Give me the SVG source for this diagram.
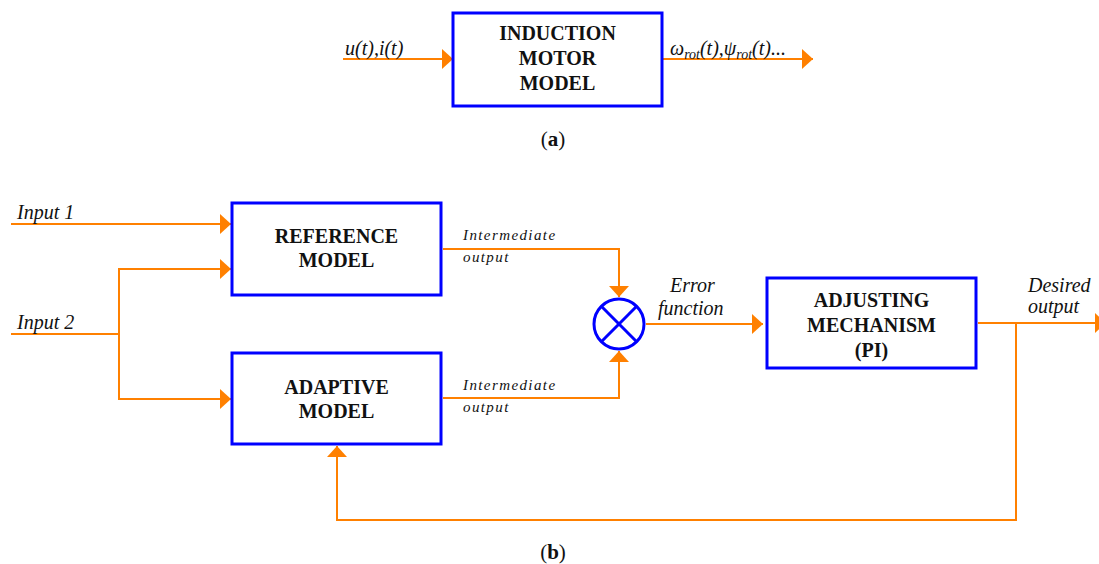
<svg xmlns="http://www.w3.org/2000/svg" width="1099" height="564" viewBox="0 0 1099 564">
<defs>
<style>
text{font-family:"Liberation Serif","Times New Roman","DejaVu Serif",serif;fill:#111}
.box{fill:#fff;stroke:#0000ff;stroke-width:3}
.ln{fill:none;stroke:#ff8000;stroke-width:2}
.bt{font-weight:bold;font-size:20px;text-anchor:middle}
.it{font-style:italic;font-size:20px}
.sm{font-style:italic;font-size:15px;letter-spacing:1.4px}
.cap{font-size:21px;text-anchor:middle}
</style>
<marker id="ah" markerUnits="userSpaceOnUse" markerWidth="12" markerHeight="20" refX="11" refY="10" orient="auto" viewBox="0 0 12 20">
<path d="M0,0 L11,10 L0,20 z" fill="#ff8000"/>
</marker>
</defs>

<g id="connectors">
<line class="ln" x1="343" y1="59" x2="453" y2="59" marker-end="url(#ah)"/>
<line class="ln" x1="662" y1="59" x2="813" y2="59" marker-end="url(#ah)"/>
<line class="ln" x1="11" y1="224" x2="231" y2="224" marker-end="url(#ah)"/>
<polyline class="ln" points="11,334 119,334"/>
<polyline class="ln" points="119,334 119,269 231,269" marker-end="url(#ah)"/>
<polyline class="ln" points="119,334 119,399 231,399" marker-end="url(#ah)"/>
<polyline class="ln" points="443,249 619,249 619,297" marker-end="url(#ah)"/>
<polyline class="ln" points="443,398 619,398 619,351" marker-end="url(#ah)"/>
<line class="ln" x1="646" y1="324" x2="763" y2="324" marker-end="url(#ah)"/>
<line class="ln" x1="978" y1="323" x2="1106" y2="323" marker-end="url(#ah)"/>
<polyline class="ln" points="1016,323 1016,520 337,520 337,446" marker-end="url(#ah)"/>
</g>

<g id="motor">
<rect class="box" x="453" y="13" width="209" height="93"/>
<text class="bt" x="557.5" y="40">INDUCTION</text>
<text class="bt" x="557.5" y="65">MOTOR</text>
<text class="bt" x="557.5" y="90">MODEL</text>
</g>
<text class="it" x="345" y="55">u(t),i(t)</text>
<text class="it" x="670" y="55">ω<tspan font-size="14" dy="4">rot</tspan><tspan dy="-4">(t),ψ</tspan><tspan font-size="14" dy="4">rot</tspan><tspan dy="-4">(t)...</tspan></text>
<text class="cap" x="553" y="146">(<tspan font-weight="bold">a</tspan>)</text>

<g id="reference">
<rect class="box" x="232" y="203" width="209" height="92"/>
<text class="bt" x="336.5" y="243">REFERENCE</text>
<text class="bt" x="336.5" y="267">MODEL</text>
</g>
<g id="adaptive">
<rect class="box" x="232" y="353" width="209" height="91"/>
<text class="bt" x="336.5" y="394">ADAPTIVE</text>
<text class="bt" x="336.5" y="418">MODEL</text>
</g>
<g id="comparator">
<circle cx="619" cy="324" r="25" fill="#fff" stroke="#0000ff" stroke-width="3"/>
<line x1="601.3" y1="306.3" x2="636.7" y2="341.7" stroke="#0000ff" stroke-width="3"/>
<line x1="636.7" y1="306.3" x2="601.3" y2="341.7" stroke="#0000ff" stroke-width="3"/>
</g>
<g id="adjusting">
<rect class="box" x="767" y="278" width="209" height="90"/>
<text class="bt" x="871.5" y="307">ADJUSTING</text>
<text class="bt" x="871.5" y="332">MECHANISM</text>
<text class="bt" x="871.5" y="357">(PI)</text>
</g>

<text class="it" x="17" y="219">Input 1</text>
<text class="it" x="17" y="329">Input 2</text>
<text class="sm" x="463" y="240">Intermediate</text>
<text class="sm" x="463" y="262">output</text>
<text class="sm" x="463" y="390">Intermediate</text>
<text class="sm" x="463" y="412">output</text>
<text class="it" x="670" y="292">Error</text>
<text class="it" x="658" y="315">function</text>
<text class="it" x="1028" y="292">Desired</text>
<text class="it" x="1028" y="313">output</text>
<text class="cap" x="553" y="559">(<tspan font-weight="bold">b</tspan>)</text>
</svg>
